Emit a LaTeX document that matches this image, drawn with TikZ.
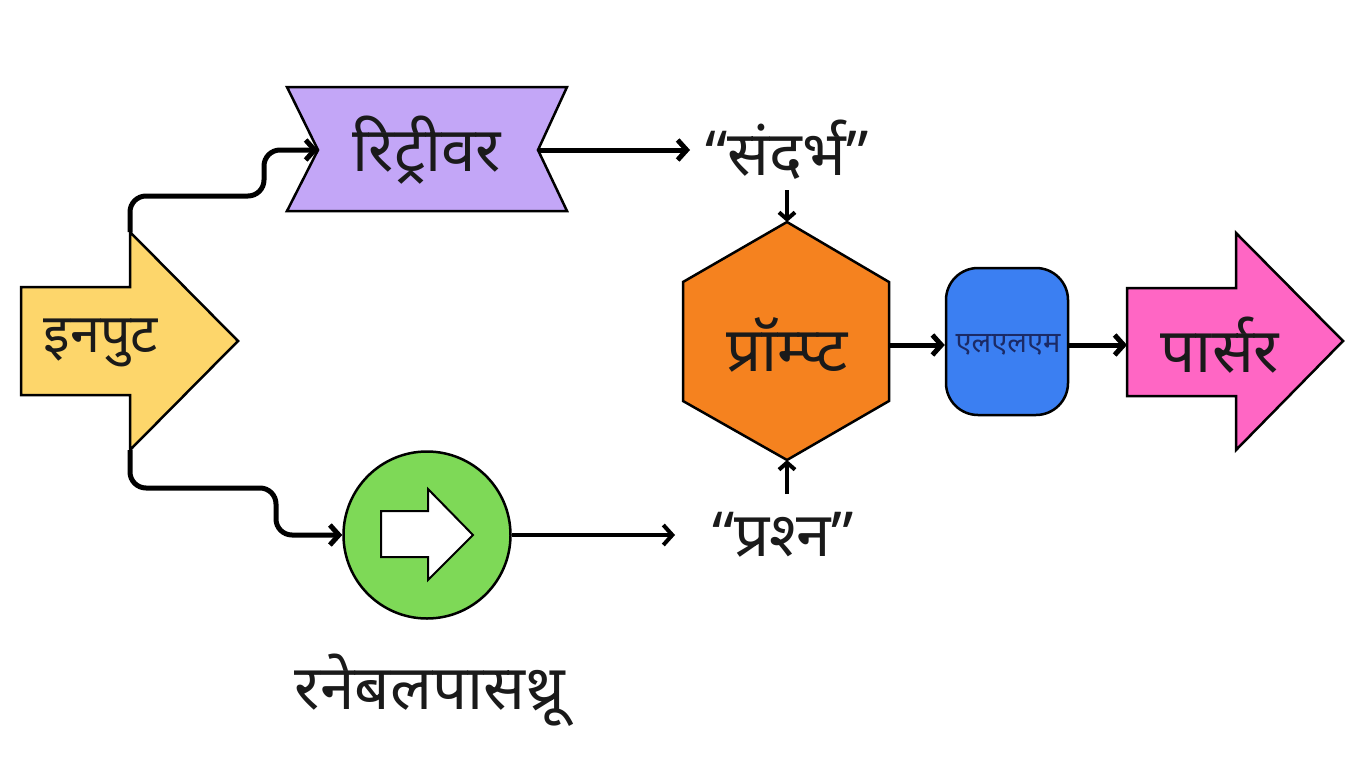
\documentclass[tikz,border=0pt]{standalone}
\usepackage{fontspec}
\newfontfamily\dev[Script=Devanagari]{Noto Sans}
\usetikzlibrary{arrows.meta}
\definecolor{cin}{HTML}{FDD66B}
\definecolor{cret}{HTML}{C3A6F7}
\definecolor{cgreen}{HTML}{7ED957}
\definecolor{corange}{HTML}{F5821F}
\definecolor{cblue}{HTML}{3B7FF2}
\definecolor{cpink}{HTML}{FF66C4}
\definecolor{ctext}{HTML}{1A1A1A}
\definecolor{cllmtext}{HTML}{1B2A66}
\begin{document}
\begin{tikzpicture}[x=1pt,y=-1pt,
  shapeline/.style={draw=black,line width=2.5pt,line join=miter},
  big/.style={font=\dev\fontsize{62}{70}\selectfont,text=ctext,inner sep=0pt},
  conn/.style={line width=5pt,-{Straight Barb[length=9pt,width=20pt]}},
  small/.style={line width=4pt,-{Straight Barb[length=7pt,width=16pt]}}]
\useasboundingbox (0,0) rectangle (1365,768);
% input arrow
\draw[shapeline,fill=cin] (21,287) -- (130,287) -- (130,232) -- (238,341) -- (130,450) -- (130,395) -- (21,395) -- cycle;
\node[big,font=\dev\fontsize{54}{60}\selectfont] (input) at (101,343) {इनपुट};
\coordinate (inTop) at (130,232);
\coordinate (inBot) at (130,450);
% retriever
\draw[shapeline,fill=cret] (287,87) -- (567,87) -- (538,150) -- (567,211) -- (287,211) -- (318,150) -- cycle;
\node[big] (ret) at (427,150) {रिट्रीवर};
\coordinate (retL) at (318,150);
\coordinate (retR) at (538,150);
% green circle
\node[shapeline,fill=cgreen,circle,minimum size=167pt,inner sep=0pt] (pass) at (427,535) {};
\draw[draw=black,line width=2pt,fill=white] (381,511) -- (428,511) -- (428,489) -- (473,535) -- (428,580) -- (428,557) -- (381,557) -- cycle;
\node[big] (passlbl) at (430,690) {रनेबलपासथ्रू};
% labels
\node[big] (ctx) at (787,150) {“संदर्भ”};
\node[big] (q) at (783,535) {“प्रश्‍न”};
% hexagon
\draw[shapeline,fill=corange] (787,222) -- (889,282) -- (889,401) -- (787,460) -- (683,401) -- (683,282) -- cycle;
\node[big] (prompt) at (787,345) {प्रॉम्प्ट};
\coordinate (hexT) at (787,222);
\coordinate (hexB) at (787,460);
\coordinate (hexR) at (889,345);
% LLM
\node[shapeline,fill=cblue,rounded corners=32pt,minimum width=122pt,minimum height=147pt,inner sep=0pt] (llm) at (1007,341.5) {};
\node[font=\dev\fontsize{29}{34}\selectfont,text=cllmtext,inner sep=0pt] (llmt) at (1008,345) {एलएलएम};
% parser
\draw[shapeline,fill=cpink] (1127,288) -- (1236,288) -- (1236,233) -- (1343,341) -- (1236,450) -- (1236,396) -- (1127,396) -- cycle;
\node[big] (parser) at (1220,345) {पार्सर};
\coordinate (parL) at (1127,345);
% connectors
\draw[conn,rounded corners=16pt] (inTop) -- (130,196) -- (264,196) -- (264,150) -- (retL);
\draw[conn,rounded corners=16pt] (inBot) -- (130,488) -- (276,488) -- (276,535) -- (pass.west);
\draw[conn] (retR) -- (690,150);
\draw[line width=4pt,-{Straight Barb[length=9pt,width=20pt]}] (pass.east) -- (675,535);
\draw[small] (787,190) -- (hexT);
\draw[small] (787,494) -- (hexB);
\draw[conn] (hexR) -- (llm.west|-hexR);
\draw[conn] (llm.east|-hexR) -- (parL);
\end{tikzpicture}
\end{document}
